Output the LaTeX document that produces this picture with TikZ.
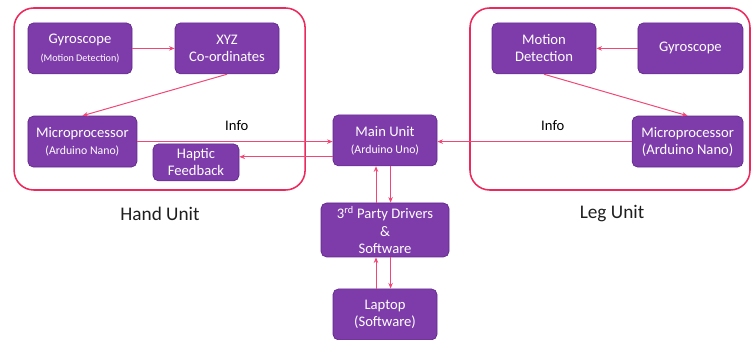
\documentclass[tikz,border=0pt]{standalone}
\usepackage{fontspec}
\setmainfont{Carlito}
\usetikzlibrary{arrows.meta, positioning}
\definecolor{cBox}{RGB}{126, 60, 170}
\definecolor{bBox}{RGB}{98, 40, 140}
\definecolor{cLine}{RGB}{242, 70, 118}
\definecolor{bUnit}{RGB}{236, 40, 92}
\definecolor{tDark}{RGB}{30, 30, 30}

\begin{document}
\begin{tikzpicture}[
    font=\fontsize{10.4}{12.2}\selectfont,
    >={Stealth[length=4pt, width=3.2pt]},
    block/.style={
        draw=bBox,
        fill=cBox,
        text=white,
        line width=0.5pt,
        rounded corners=4pt,
        align=center,
        inner sep=2pt,
        minimum width=#1,
        minimum height=1.275cm
    },
    block/.default=2.6cm,
    unit/.style={
        draw=bUnit,
        line width=1.1pt,
        rounded corners=14pt,
        minimum height=4.55cm
    },
    arrow/.style={->, line width=0.7pt, color=cLine},
    caption/.style={font=\fontsize{13.7}{16}\selectfont, text=tDark}
]
\useasboundingbox (0,0) rectangle (18.8,-8.5);

% Unit outlines
\node[unit, minimum width=7.275cm] (hand) at (3.99, -2.475) {};
\node[unit, minimum width=7.0cm] (leg) at (15.25, -2.475) {};
\node[caption] (handlbl) at (4.0, -5.35) {Hand Unit};
\node[caption] (leglbl) at (15.3, -5.35) {Leg Unit};

% Hand unit
\node[block] (gyroH) at (2.0, -1.21) {Gyroscope\\{\fontsize{7.2}{9}\selectfont(Motion Detection)}};
\node[block] (xyz) at (5.675, -1.21) {XYZ\\Co-ordinates};
\node[block=2.725cm] (microH) at (2.06, -3.54) {Microprocessor\\{\fontsize{8.4}{10}\selectfont(Arduino Nano)}};
\node[block=2.15cm, minimum height=0.925cm] (haptic) at (4.9, -4.06) {Haptic\\Feedback};

% Centre column
\node[block] (main) at (9.625, -3.51) {Main Unit\\{\fontsize{8.4}{10}\selectfont(Arduino Uno)}};
\node[block=3.2cm, minimum height=1.35cm] (party) at (9.625, -5.75) {3\textsuperscript{rd} Party Drivers\\\&\\Software};
\node[block] (laptop) at (9.625, -7.86) {Laptop\\(Software)};

% Leg unit
\node[block] (motion) at (13.6, -1.21) {Motion\\Detection};
\node[block=2.625cm] (gyroL) at (17.26, -1.21) {Gyroscope};
\node[block=2.775cm] (microL) at (17.19, -3.54) {Microprocessor\\(Arduino Nano)};

\node (infoH) at (5.92, -3.15) {Info};
\node (infoL) at (13.82, -3.15) {Info};

% Connectors
\draw[arrow] (gyroH) -- (xyz);
\draw[arrow] (xyz.south) -- (microH.north);
\draw[arrow] (microH.east) -- (microH.east -| main.west);
\draw[arrow] ([yshift=-0.41cm]main.west) -- ([yshift=-0.41cm]main.west -| haptic.east);

\draw[arrow] (gyroL) -- (motion);
\draw[arrow] (motion.south) -- (microL.north);
\draw[arrow] (microL.west) -- (microL.west -| main.east);

\draw[arrow] ([xshift=-0.225cm]party.north) -- ([xshift=-0.225cm]main.south);
\draw[arrow] ([xshift=0.14cm]main.south) -- ([xshift=0.14cm]party.north);
\draw[arrow] ([xshift=-0.225cm]laptop.north) -- ([xshift=-0.225cm]party.south);
\draw[arrow] ([xshift=0.14cm]party.south) -- ([xshift=0.14cm]laptop.north);

\end{tikzpicture}
\end{document}
